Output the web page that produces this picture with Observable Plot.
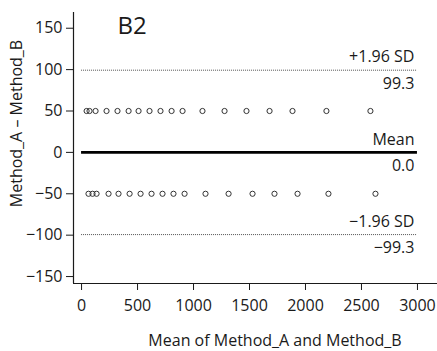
<!DOCTYPE html>
<html>
<head>
<meta charset="utf-8">
<script src="https://cdn.jsdelivr.net/npm/d3@7"></script>
<script src="https://cdn.jsdelivr.net/npm/@observablehq/plot@0.6"></script>
<style>
  html, body { margin: 0; padding: 0; background: white; }
</style>
</head>
<body>
<div id="chart"></div>
<script>
// ---- data ----
const panelTitle = "B2";
const xLabel = "Mean of Method_A and Method_B";
const yLabel = "Method_A \u2013 Method_B";
const xTicks = [0, 500, 1000, 1500, 2000, 2500, 3000];
const yTicks = [-150, -100, -50, 0, 50, 100, 150];
const xDomain = [-72, 3179];
const yDomain = [-158.4, 169];

// upper row (difference = +50)
const upperMeans = [45, 71, 125, 223, 321, 420, 509, 607, 705, 804, 902, 1080, 1277, 1473, 1679, 1884, 2187, 2580];
const upperDiff = 50;
// lower row (difference = -50)
const lowerMeans = [62, 98, 134, 241, 330, 429, 527, 625, 723, 821, 920, 1107, 1313, 1527, 1723, 1929, 2205, 2625];
const lowerDiff = -50;

const limitNames = ["+1.96 SD", "Mean", "\u22121.96 SD"];
const limitValues = [99.3, 0.0, -99.3];
const limitStart = 0;
const limitEnd = 3000;

// ---- build tables ----
const points = [
  ...upperMeans.map(m => ({mean: m, diff: upperDiff})),
  ...lowerMeans.map(m => ({mean: m, diff: lowerDiff}))
];
const limits = limitNames.map((n, i) => ({name: n, value: limitValues[i], x1: limitStart, x2: limitEnd}));
const fmt = d3.format(".1f");

const chart = Plot.plot({
  width: 437,
  height: 351,
  marginLeft: 73,
  marginRight: 0,
  marginTop: 12,
  marginBottom: 68,
  style: {fontFamily: "'Open Sans', sans-serif", fontSize: "16px", color: "#1a1a1a", background: "white"},
  x: {domain: xDomain},
  y: {domain: yDomain},
  marks: [
    Plot.axisX({ticks: xTicks, tickSize: 7, tickPadding: 9, tickFormat: "d", label: null, fontSize: 16}),
    Plot.axisY({ticks: yTicks, tickSize: 7, tickPadding: 4, tickFormat: "d", label: null, fontSize: 16}),
    Plot.ruleX([xDomain[0]], {stroke: "#1a1a1a", strokeWidth: 1.2}),
    Plot.ruleY([yDomain[0]], {stroke: "#1a1a1a", strokeWidth: 1.2}),
    Plot.ruleY(limits.filter(d => d.name !== "Mean"), {y: "value", x1: "x1", x2: "x2", stroke: "#555", strokeWidth: 1, strokeDasharray: "1,1"}),
    Plot.ruleY(limits.filter(d => d.name === "Mean"), {y: "value", x1: "x1", x2: "x2", stroke: "#000", strokeWidth: 2.6}),
    Plot.dot(points, {x: "mean", y: "diff", r: 2.6, stroke: "#333", strokeWidth: 1, fill: "none"}),
    Plot.text(limits, {x: "x2", y: "value", text: "name", textAnchor: "end", dx: -3, dy: -13, fontSize: 16}),
    Plot.text(limits, {x: "x2", y: "value", text: d => fmt(d.value), textAnchor: "end", dx: -3, dy: 13.5, fontSize: 16}),
    Plot.text([panelTitle], {frameAnchor: "top-left", textAnchor: "start", lineAnchor: "middle", dx: 44, dy: 14, fontSize: 24}),
    Plot.text([yLabel], {frameAnchor: "left", textAnchor: "middle", lineAnchor: "middle", rotate: -90, dx: -57, dy: -24.5, fontSize: 16}),
    Plot.text([xLabel], {frameAnchor: "bottom", textAnchor: "middle", lineAnchor: "middle", dx: 19.5, dy: 57, fontSize: 16})
  ]
});
document.getElementById("chart").appendChild(chart);
</script>
</body>
</html>
